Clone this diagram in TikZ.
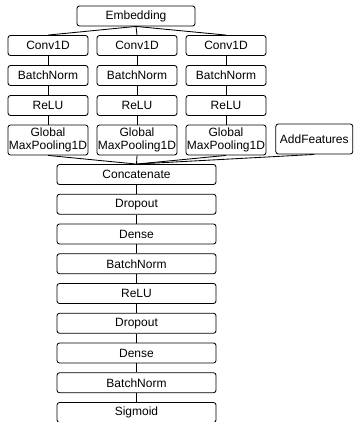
\documentclass[tikz,border=0pt]{standalone}
\usepackage{fontspec}
\setmainfont{Liberation Sans}
\usetikzlibrary{positioning}

\begin{document}
\begin{tikzpicture}[x=1pt, y=-1pt, line width=0.85pt,
    every node/.style={font=\fontsize{12}{12.5}\selectfont},
    layer/.style={draw, rounded corners=2.5pt, inner sep=0pt, minimum height=20pt}]
    \useasboundingbox (0,0) rectangle (353,422);
    \node[layer, minimum width=118pt] (emb) at (136,16) {Embedding};
    % three conv branches
    \foreach \c/\x in {a/48, b/137, c/226} {
        \node[layer, minimum width=80pt] (conv\c) at (\x,45.5) {Conv1D};
        \node[layer, minimum width=80pt] (bn\c) at (\x,75.5) {BatchNorm};
        \node[layer, minimum width=80pt] (relu\c) at (\x,105.5) {ReLU};
        \node[layer, minimum width=80pt, minimum height=30pt, align=center] (pool\c) at (\x,140) {Global\\MaxPooling1D};
        \draw (emb.south) -- (conv\c.north);
        \draw (conv\c) -- (bn\c);
        \draw (bn\c) -- (relu\c);
        \draw (relu\c) -- (pool\c);
    }
    \node[layer, minimum width=77pt, minimum height=30pt] (feat) at (314.3,139) {AddFeatures};
    % dense head
    \foreach \n/\lab [count=\k] in {concat/Concatenate, dropa/Dropout, densea/Dense, bnd/BatchNorm, relud/ReLU, dropb/Dropout, denseb/Dense, bne/BatchNorm, sig/Sigmoid} {
        \node[layer, minimum width=159pt] (\n) at (136.5,{174.5+(\k-1)*29.75}) {\lab};
    }
    \foreach \u in {poola, poolb, poolc, feat}
        \draw (\u.south) -- (concat.north);
    \foreach \u/\v in {concat/dropa, dropa/densea, densea/bnd, bnd/relud, relud/dropb, dropb/denseb, denseb/bne, bne/sig}
        \draw (\u) -- (\v);
\end{tikzpicture}
\end{document}
